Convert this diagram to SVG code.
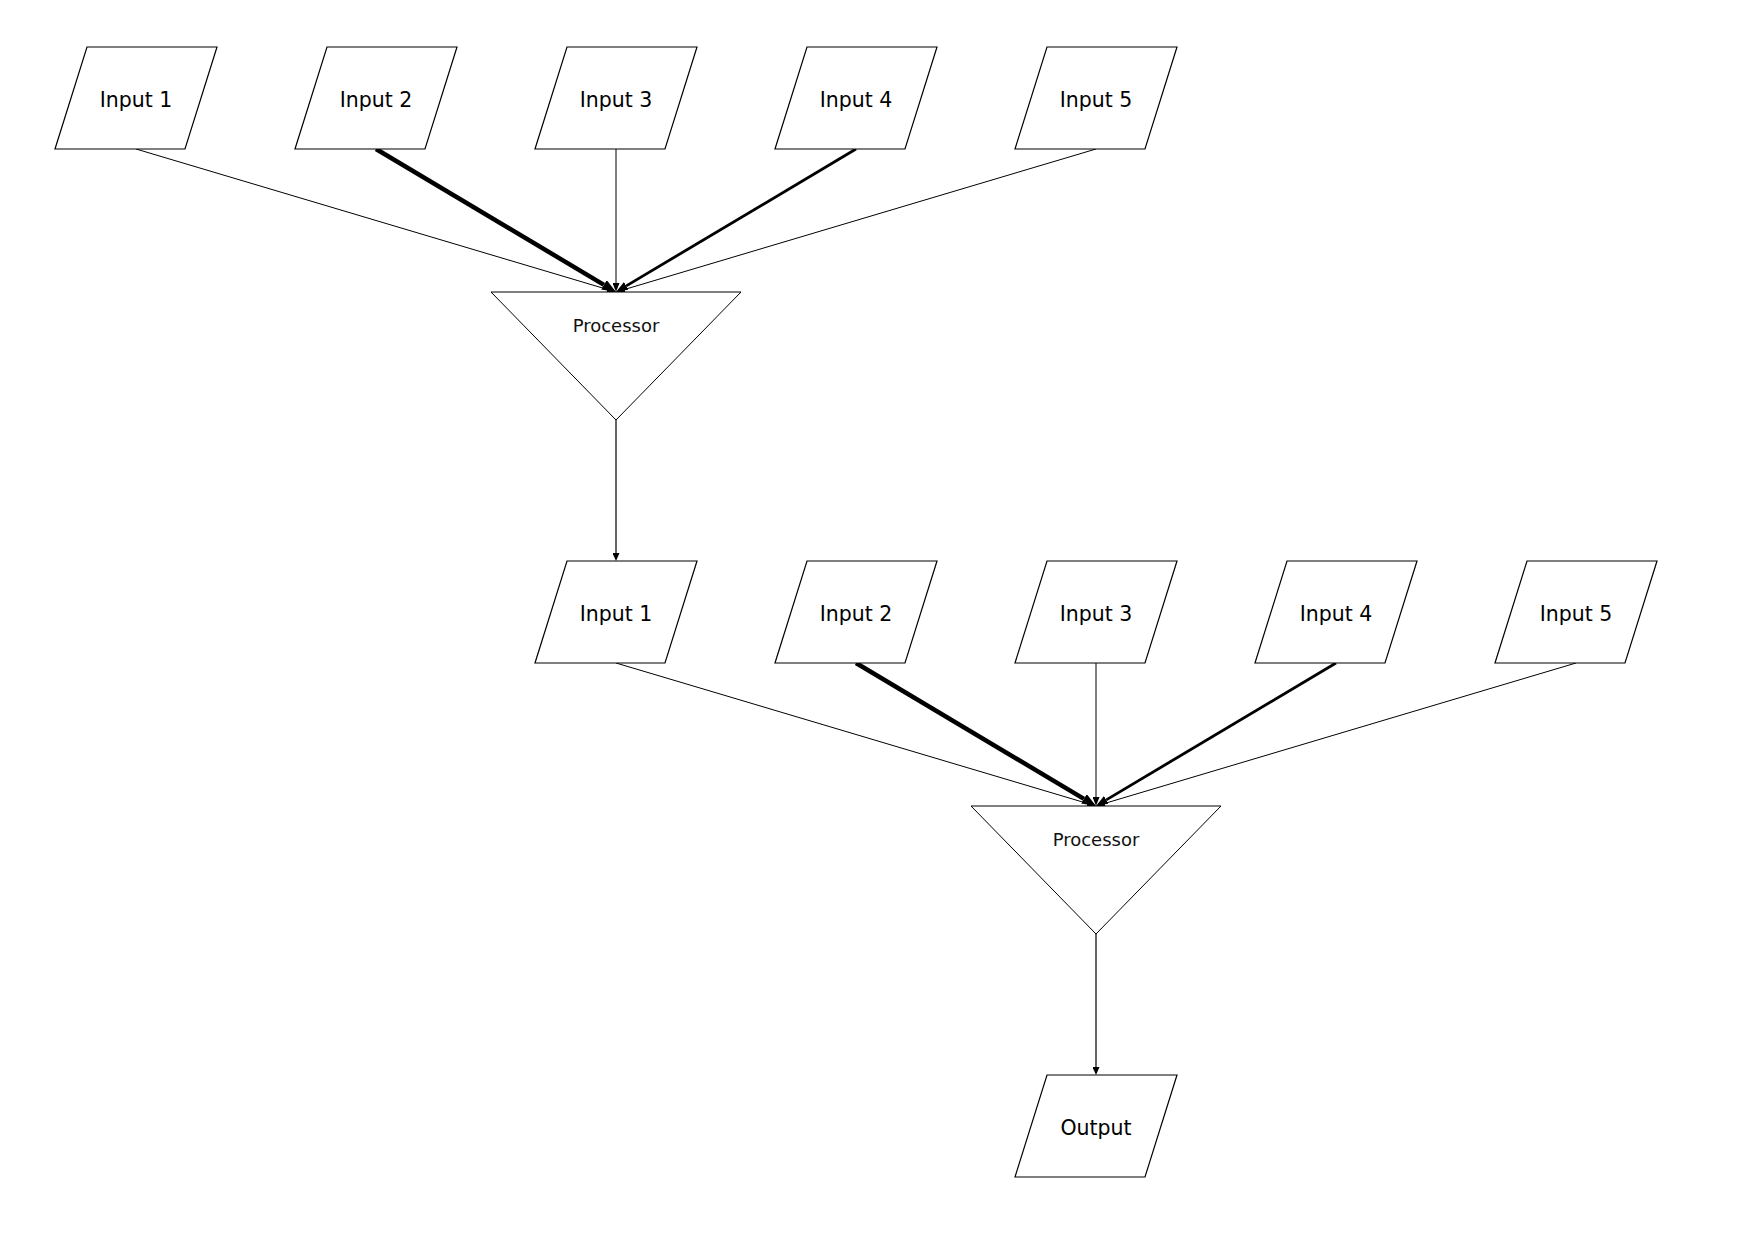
<svg xmlns="http://www.w3.org/2000/svg" width="1737" height="1237" viewBox="0 0 1737 1237">
<style>
.io{fill:#fff;stroke:#000;stroke-width:1.2}
.proc{fill:#fff;stroke:#000;stroke-width:1}
.lbl{font-family:"DejaVu Sans",sans-serif;font-size:20.5px;fill:#000;text-anchor:middle}
.plbl{font-family:"DejaVu Sans",sans-serif;font-size:18px;fill:#111;text-anchor:middle}
.c{fill:none;stroke:#000}
.w1{stroke-width:1;marker-end:url(#a1)}
.w2{stroke-width:4.5;marker-end:url(#a3)}
.w3{stroke-width:1;marker-end:url(#a1)}
.w4{stroke-width:2.8;marker-end:url(#a2)}
.wv{stroke-width:1.2;marker-end:url(#av)}
</style>
<defs>
<marker id="a1" markerUnits="userSpaceOnUse" markerWidth="9" markerHeight="7" refX="0" refY="3.5" orient="auto"><path d="M0,0 L9,3.5 L0,7 Z" fill="#000"/></marker>
<marker id="a2" markerUnits="userSpaceOnUse" markerWidth="12" markerHeight="9" refX="0" refY="4.5" orient="auto"><path d="M0,0 L12,4.5 L0,9 Z" fill="#000"/></marker>
<marker id="a3" markerUnits="userSpaceOnUse" markerWidth="14" markerHeight="11" refX="0" refY="5.5" orient="auto"><path d="M0,0 L14,5.5 L0,11 Z" fill="#000"/></marker>
<marker id="av" markerUnits="userSpaceOnUse" markerWidth="8" markerHeight="7" refX="0" refY="3.5" orient="auto"><path d="M0,0 L8,3.5 L0,7 Z" fill="#000"/></marker>
</defs>
<rect width="1737" height="1237" fill="#fff"/>
<g id="connectors">
<line class="c w1" x1="136" y1="149" x2="607.37" y2="289.43"/>
<line class="c w2" x1="376" y1="149" x2="603.97" y2="284.83"/>
<line class="c w3" x1="616" y1="149" x2="616" y2="283"/>
<line class="c w4" x1="856" y1="149" x2="626.31" y2="285.86"/>
<line class="c w1" x1="1096" y1="149" x2="624.63" y2="289.43"/>
<line class="c wv" x1="616" y1="420" x2="616" y2="553"/>
<line class="c w1" x1="616" y1="663" x2="1087.37" y2="803.43"/>
<line class="c w2" x1="856" y1="663" x2="1083.97" y2="798.83"/>
<line class="c w3" x1="1096" y1="663" x2="1096" y2="797"/>
<line class="c w4" x1="1336" y1="663" x2="1106.31" y2="799.86"/>
<line class="c w1" x1="1576" y1="663" x2="1104.63" y2="803.43"/>
<line class="c wv" x1="1096" y1="934" x2="1096" y2="1067"/>
</g>
<g id="a-input1"><polygon class="io" points="87,47 217,47 185,149 55,149"/><text class="lbl" x="136" y="107">Input 1</text></g>
<g id="a-input2"><polygon class="io" points="327,47 457,47 425,149 295,149"/><text class="lbl" x="376" y="107">Input 2</text></g>
<g id="a-input3"><polygon class="io" points="567,47 697,47 665,149 535,149"/><text class="lbl" x="616" y="107">Input 3</text></g>
<g id="a-input4"><polygon class="io" points="807,47 937,47 905,149 775,149"/><text class="lbl" x="856" y="107">Input 4</text></g>
<g id="a-input5"><polygon class="io" points="1047,47 1177,47 1145,149 1015,149"/><text class="lbl" x="1096" y="107">Input 5</text></g>
<g id="a-processor"><polygon class="proc" points="491,292 741,292 616,420"/><text class="plbl" x="616" y="331.5">Processor</text></g>
<g id="b-input1"><polygon class="io" points="567,561 697,561 665,663 535,663"/><text class="lbl" x="616" y="621">Input 1</text></g>
<g id="b-input2"><polygon class="io" points="807,561 937,561 905,663 775,663"/><text class="lbl" x="856" y="621">Input 2</text></g>
<g id="b-input3"><polygon class="io" points="1047,561 1177,561 1145,663 1015,663"/><text class="lbl" x="1096" y="621">Input 3</text></g>
<g id="b-input4"><polygon class="io" points="1287,561 1417,561 1385,663 1255,663"/><text class="lbl" x="1336" y="621">Input 4</text></g>
<g id="b-input5"><polygon class="io" points="1527,561 1657,561 1625,663 1495,663"/><text class="lbl" x="1576" y="621">Input 5</text></g>
<g id="b-processor"><polygon class="proc" points="971,806 1221,806 1096,934"/><text class="plbl" x="1096" y="845.5">Processor</text></g>
<g id="output"><polygon class="io" points="1047,1075 1177,1075 1145,1177 1015,1177"/><text class="lbl" x="1096" y="1135">Output</text></g>
</svg>
